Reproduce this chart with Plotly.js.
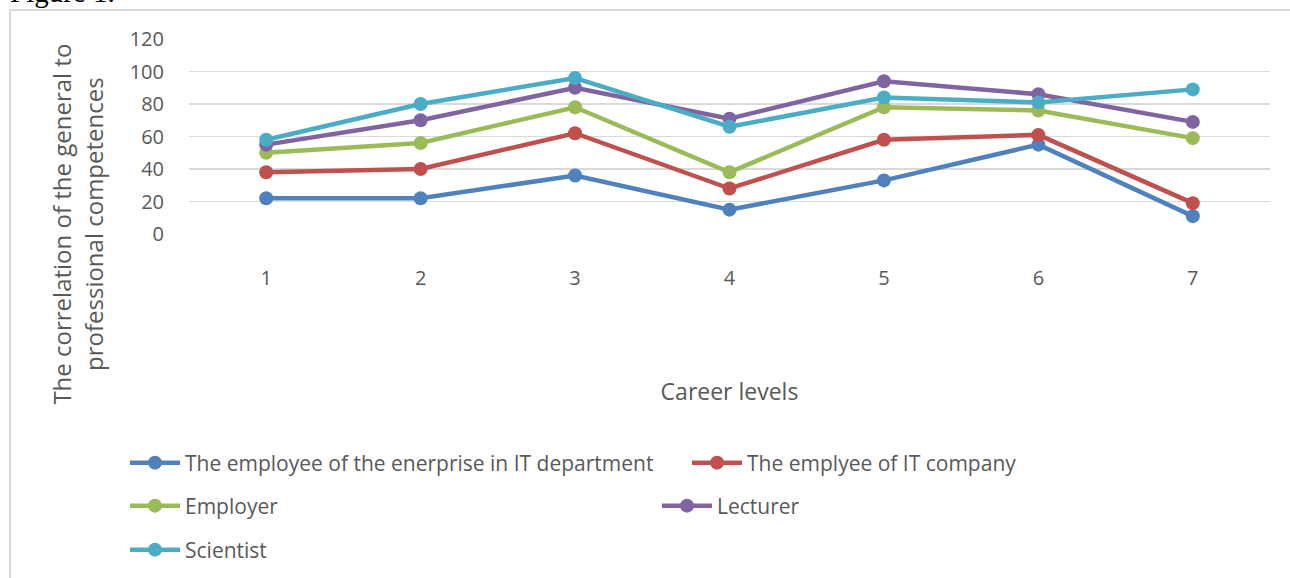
<!DOCTYPE html>
<html>
<head>
<meta charset="utf-8">
<script src="https://cdn.plot.ly/plotly-3.0.1.min.js"></script>
<style>
html,body{margin:0;padding:0;background:#fff;}
#chart{width:1290px;height:578px;}
</style>
</head>
<body>
<div id="chart"></div>
<script>
const levels = [1, 2, 3, 4, 5, 6, 7];
const seriesNames = [
  "The employee of the enerprise in IT department",
  "The emplyee of IT company",
  "Employer",
  "Lecturer",
  "Scientist"
];
const itDepartment = [22, 22, 36, 15, 33, 55, 11];
const itCompany    = [38, 40, 62, 28, 58, 61, 19];
const employer     = [50, 56, 78, 38, 78, 76, 59];
const lecturer     = [55, 70, 90, 71, 94, 86, 69];
const scientist    = [58, 80, 96, 66, 84, 81, 89];
const yTicks = [0, 20, 40, 60, 80, 100, 120];
const xTitle = "Career levels";
const yTitle = "The correlation of the general to<br>professional competences";

const colors = ["#4F81BD", "#C0504D", "#9BBB59", "#8064A2", "#4BACC6"];
const values = [itDepartment, itCompany, employer, lecturer, scientist];
const legendFor = ["legend", "legend4", "legend2", "legend5", "legend3"];

const FONT = "Open Sans, sans-serif";
const TXT = "#595959";

const traces = values.map((v, i) => ({
  x: levels,
  y: v,
  name: seriesNames[i],
  type: "scatter",
  mode: "lines+markers",
  line: {color: colors[i], width: 4.5},
  marker: {color: colors[i], size: 14},
  cliponaxis: false,
  legend: legendFor[i]
}));

const legendBase = {
  orientation: "h",
  xref: "container",
  yref: "container",
  xanchor: "left",
  yanchor: "middle",
  font: {family: FONT, size: 21, color: TXT},
  bgcolor: "rgba(0,0,0,0)",
  itemwidth: 50
};

const layout = {
  width: 1290,
  height: 578,
  margin: {l: 189, r: 20, t: 39, b: 344},
  paper_bgcolor: "#fff",
  plot_bgcolor: "#fff",
  font: {family: FONT, color: TXT, size: 20},
  showlegend: true,
  legend:  Object.assign({}, legendBase, {x: 0.0969, y: 0.199}),
  legend4: Object.assign({}, legendBase, {x: 0.5326, y: 0.199}),
  legend2: Object.assign({}, legendBase, {x: 0.0969, y: 0.1246}),
  legend5: Object.assign({}, legendBase, {x: 0.5093, y: 0.1246}),
  legend3: Object.assign({}, legendBase, {x: 0.0969, y: 0.0484}),
  xaxis: {
    type: "linear",
    range: [0.5, 7.5],
    tickvals: levels,
    ticktext: levels.map(String),
    showgrid: false,
    zeroline: false,
    showline: false,
    ticks: "outside",
    ticklen: 26,
    tickcolor: "rgba(0,0,0,0)",
    tickfont: {family: FONT, size: 20, color: TXT},
    title: {text: xTitle, font: {family: FONT, size: 23, color: TXT}, standoff: 93}
  },
  yaxis: {
    range: [0, 120],
    tickvals: yTicks,
    showgrid: true,
    gridcolor: "#D9D9D9",
    gridwidth: 1.3,
    zeroline: false,
    showline: false,
    ticks: "outside",
    ticklen: 20,
    tickcolor: "rgba(0,0,0,0)",
    tickfont: {family: FONT, size: 20, color: TXT}
  },
  annotations: [
    {
      text: yTitle,
      xref: "paper", yref: "paper",
      x: -0.1031, y: 0.051,
      xanchor: "center", yanchor: "middle",
      textangle: -90,
      showarrow: false,
      font: {family: FONT, size: 24, color: TXT}
    },
    {
      text: "Figure 1.",
      xref: "paper", yref: "paper",
      x: -0.1674, y: 1.149,
      xanchor: "left", yanchor: "bottom",
      showarrow: false,
      font: {family: "Liberation Serif, serif", size: 29, color: "#000"}
    }
  ],
  shapes: [
    {
      type: "rect",
      xref: "paper", yref: "paper",
      x0: -0.1656, x1: 1.0231,
      y0: -1.8256, y1: 1.1487,
      line: {color: "#D9D9D9", width: 2},
      fillcolor: "rgba(0,0,0,0)",
      layer: "below"
    }
  ]
};

Plotly.newPlot("chart", traces, layout, {displayModeBar: false, staticPlot: true});
</script>
</body>
</html>
